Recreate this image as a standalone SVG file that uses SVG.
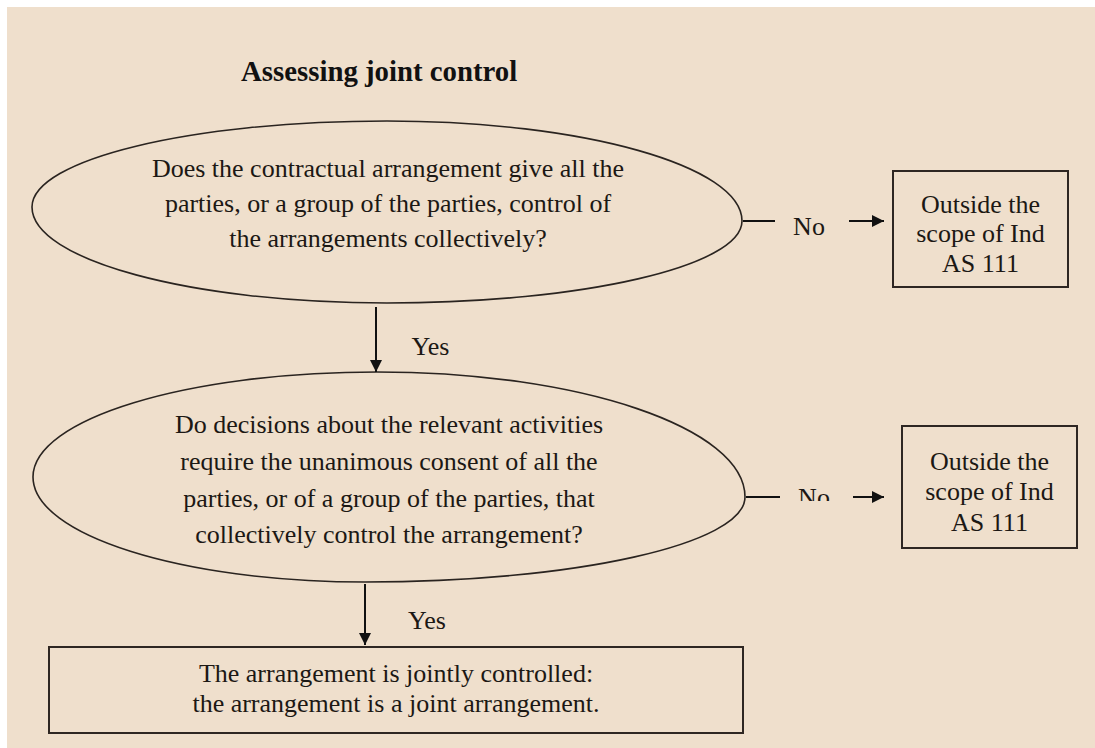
<svg xmlns="http://www.w3.org/2000/svg" width="1095" height="748" viewBox="0 0 1095 748">
<style>
.t{font-family:"Liberation Serif","Times New Roman",serif;font-size:26px;fill:#1c1814;text-anchor:middle}
.title{font-family:"Liberation Serif","Times New Roman",serif;font-size:28.8px;font-weight:bold;fill:#111}
.shape{fill:none;stroke:#2a2420;stroke-width:1.6}
.box{fill:none;stroke:#2e2622;stroke-width:2}
.conn{stroke:#111;stroke-width:2;fill:none}
</style>
<defs>
<marker id="ah" markerWidth="12" markerHeight="12" refX="12" refY="6" orient="auto" markerUnits="userSpaceOnUse">
<path d="M0,0 L12,6 L0,12 Z" fill="#111"/>
</marker>
<clipPath id="clipNo"><rect x="780" y="475" width="80" height="26"/></clipPath>
</defs>
<rect x="0" y="0" width="1095" height="748" fill="#ffffff"/>
<rect x="7" y="7" width="1088" height="741" fill="#EFDFCC"/>
<text id="title" class="title" x="241" y="81">Assessing joint control</text>
<g id="q1">
<path class="shape" d="M32,207 C32,159.5 191,121 387,121 C583,121 742,166 742,221 C742,266 583,303 387,303 C191,303 32,260 32,207 Z"/>
<text class="t" x="388" y="177">Does the contractual arrangement give all the</text>
<text class="t" x="388" y="211.5">parties, or a group of the parties, control of</text>
<text class="t" x="388" y="246.5">the arrangements collectively?</text>
</g>
<g id="out1">
<rect class="box" x="893" y="171" width="175" height="116"/>
<text class="t" x="980.5" y="213">Outside the</text>
<text class="t" x="980.5" y="242">scope of Ind</text>
<text class="t" x="980.5" y="271.5">AS 111</text>
</g>
<g id="q2">
<path class="shape" d="M33,477 C33,419 187,372 377,372 C580,372 745,428 745,497 C745,544 575,582 365,582 C182,582 33,535 33,477 Z"/>
<text class="t" x="389" y="433">Do decisions about the relevant activities</text>
<text class="t" x="389" y="470">require the unanimous consent of all the</text>
<text class="t" x="389" y="506.5">parties, or of a group of the parties, that</text>
<text class="t" x="389" y="543">collectively control the arrangement?</text>
</g>
<g id="out2">
<rect class="box" x="902" y="426" width="175" height="122"/>
<text class="t" x="989.5" y="470">Outside the</text>
<text class="t" x="989.5" y="500">scope of Ind</text>
<text class="t" x="989.5" y="530.5">AS 111</text>
</g>
<g id="result">
<rect class="box" x="49" y="647" width="694" height="86"/>
<text class="t" x="396" y="682">The arrangement is jointly controlled:</text>
<text class="t" x="396" y="712">the arrangement is a joint arrangement.</text>
</g>
<g id="connectors">
<line class="conn" x1="376" y1="307" x2="376" y2="372" marker-end="url(#ah)"/>
<text class="t" x="430.5" y="355">Yes</text>
<line class="conn" x1="365" y1="584" x2="365" y2="645" marker-end="url(#ah)"/>
<text class="t" x="427" y="629">Yes</text>
<line class="conn" x1="743" y1="221" x2="775" y2="221"/>
<text class="t" x="809" y="235">No</text>
<line class="conn" x1="849" y1="221" x2="884" y2="221" marker-end="url(#ah)"/>
<line class="conn" x1="746" y1="497" x2="780" y2="497"/>
<text class="t" x="814" y="506" clip-path="url(#clipNo)">No</text>
<line class="conn" x1="853" y1="497" x2="884" y2="497" marker-end="url(#ah)"/>
</g>
</svg>
